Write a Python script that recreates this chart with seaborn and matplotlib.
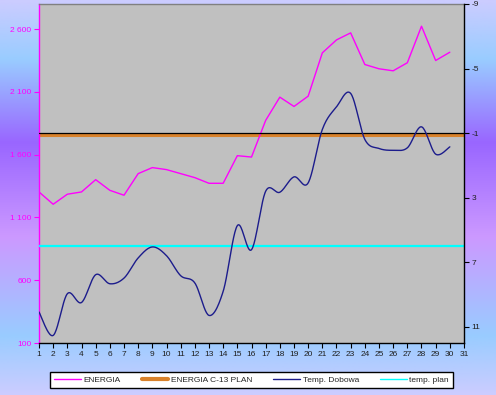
import numpy as np
import seaborn as sns
import matplotlib.pyplot as plt
from matplotlib.lines import Line2D

# Data (daily values, 30 days)
days = list(range(1, 31))
energia = [1303, 1205, 1285, 1303, 1401, 1316, 1277, 1449, 1497, 1481,
           1449, 1417, 1372, 1372, 1592, 1581, 1873, 2058, 1984, 2066,
           2411, 2514, 2570, 2318, 2284, 2268, 2332, 2623, 2350, 2416]
temp_dobowa = [10.08, 11.53, 8.95, 9.49, 7.77, 8.33, 7.98, 6.73, 6.05, 6.59,
               7.83, 8.28, 10.29, 8.80, 4.73, 6.22, 2.60, 2.66, 1.71, 2.08,
               -1.23, -2.63, -3.46, -0.61, -0.05, 0.06, -0.09, -1.39, 0.30, -0.15]
energia_plan = 1760
temp_plan = 6
temp_ref = -1

left_ticks = [100, 600, 1100, 1600, 2100, 2600]
right_ticks = [-9, -5, -1, 3, 7, 11]
x_ticks = list(range(1, 32))


def smooth(xv, yv, n=24):
    # Excel-like smoothed line (Catmull-Rom bezier through the points)
    p = np.column_stack([xv, yv]).astype(float)
    p = np.vstack([p[0], p, p[-1]])
    out = []
    for i in range(1, len(p) - 2):
        p0, p1, p2, p3 = p[i - 1], p[i], p[i + 1], p[i + 2]
        c1 = p1 + (p2 - p0) / 6
        c2 = p2 - (p3 - p1) / 6
        t = np.linspace(0, 1, n)[:, None]
        seg = ((1 - t) ** 3) * p1 + 3 * ((1 - t) ** 2) * t * c1 \
            + 3 * (1 - t) * t ** 2 * c2 + t ** 3 * p2
        out.append(seg if i == 1 else seg[1:])
    out = np.vstack(out)
    return out[:, 0], out[:, 1]


sns.set_style("white")
plt.rcParams['font.family'] = ['Liberation Sans', 'DejaVu Sans']

fig = plt.figure(figsize=(4.96, 3.95), dpi=100)

# gradient background
bg = fig.add_axes([0, 0, 1, 1], zorder=-10)
stops = [(0.0, (0.80, 0.80, 1.0)), (0.15, (0.60, 0.80, 1.0)),
         (0.36, (0.60, 0.40, 1.0)), (0.60, (0.80, 0.60, 1.0)),
         (0.85, (0.60, 0.80, 1.0)), (1.0, (0.80, 0.80, 1.0))]
pos = np.linspace(0, 1, 400)
grad = np.zeros((400, 1, 3))
for c in range(3):
    grad[:, 0, c] = np.interp(pos, [s[0] for s in stops], [s[1][c] for s in stops])
bg.imshow(grad, aspect='auto', extent=[0, 1, 0, 1])
bg.axis('off')

ax = fig.add_axes([39 / 496, 1 - 343 / 395, 425 / 496, 339 / 395])
ax.set_facecolor('#c0c0c0')
ax2 = ax.twinx()

magenta = '#ff00ff'
orange = '#d9822b'
navy = '#1c1c8c'
cyan = '#00ffff'

ax.axhline(energia_plan, color=orange, lw=2.2, zorder=2)
sns.lineplot(x=days, y=energia, ax=ax, color=magenta, lw=1.0, zorder=3)

ax2.axhline(temp_ref, color='black', lw=0.9)
ax2.axhline(temp_plan, color=cyan, lw=1.6)
sx, sy = smooth(days, temp_dobowa)
sns.lineplot(x=sx, y=sy, ax=ax2, color=navy, lw=1.0, sort=False, estimator=None)

ax.set_xlim(1, 31)
ax.set_ylim(100, 2800)
ax2.set_ylim(12, -9)

ax.set_xticks(x_ticks)
ax.set_xticklabels([str(d) for d in x_ticks], fontsize=6)
ax.set_yticks(left_ticks)
ax.set_yticklabels([f"{v:,}".replace(",", " ") for v in left_ticks],
                   fontsize=6, color=magenta)
ax2.set_yticks(right_ticks)
ax2.set_yticklabels([str(v) for v in right_ticks], fontsize=6, color='#202020')

ax.tick_params(axis='x', direction='out', length=3.5, width=0.8, colors='black',
               labelcolor='#202020', pad=2, bottom=True)
ax.tick_params(axis='y', direction='out', length=3.5, width=0.8, colors=magenta,
               pad=2, left=True)
ax2.tick_params(axis='y', direction='out', length=3.5, width=0.8, colors='black',
                labelcolor='#202020', pad=2, right=True)

for a in (ax, ax2):
    a.set_xlabel('')
    a.set_ylabel('')
    a.grid(False)
ax.spines['left'].set_color(magenta)
ax.spines['bottom'].set_color('black')
ax.spines['top'].set_color('#808080')
ax.spines['right'].set_visible(False)
for s in ('left', 'top', 'bottom'):
    ax2.spines[s].set_visible(False)
ax2.spines['right'].set_color('black')
for a in (ax, ax2):
    for s in a.spines.values():
        s.set_linewidth(1.0)

handles = [Line2D([], [], color=magenta, lw=1.0),
           Line2D([], [], color=orange, lw=3.0),
           Line2D([], [], color=navy, lw=1.0),
           Line2D([], [], color=cyan, lw=1.0)]
labels = ['ENERGIA', 'ENERGIA C-13 PLAN', 'Temp. Dobowa', 'temp. plan']
leg = fig.legend(handles, labels, ncol=4, loc='lower left', mode='expand',
                 bbox_to_anchor=(50 / 496, 7 / 395, 403 / 496, 19 / 395),
                 fontsize=6, frameon=True, fancybox=False, framealpha=1,
                 edgecolor='black', handlelength=3.2, borderaxespad=0,
                 borderpad=0.5, handletextpad=0.3)
leg.get_frame().set_linewidth(1.0)

fig.savefig('out.png', dpi=100)
